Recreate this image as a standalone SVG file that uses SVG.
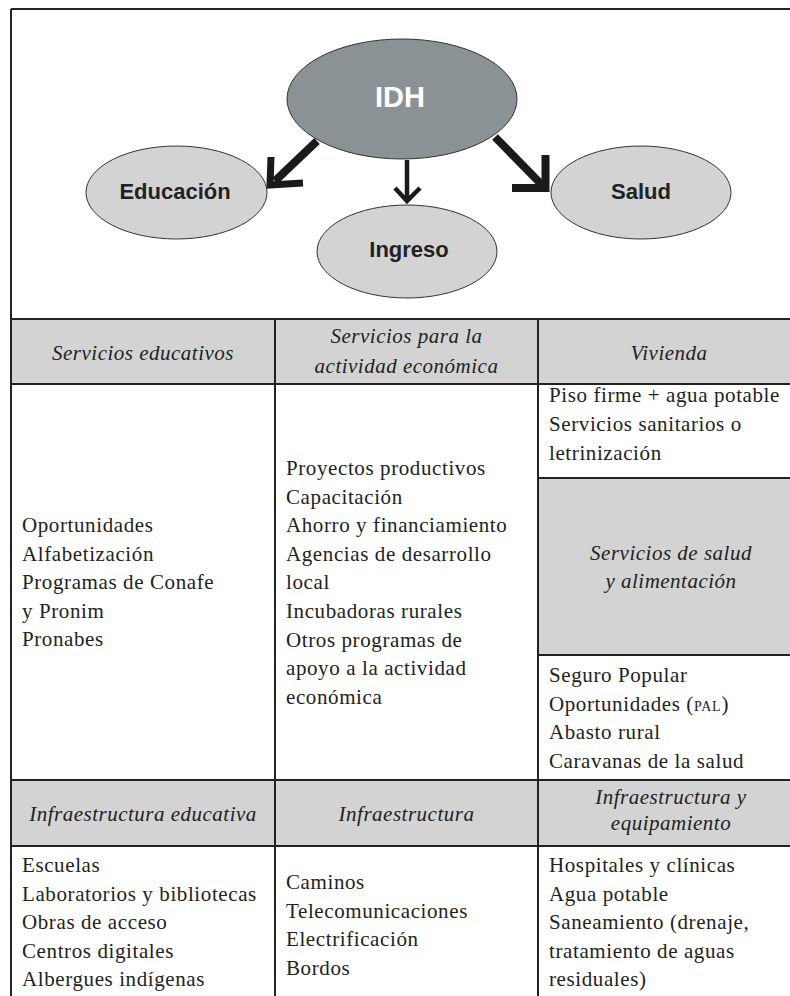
<svg xmlns="http://www.w3.org/2000/svg" width="790" height="996" viewBox="0 0 790 996">
<style>
.bg{fill:#ffffff}
.grid{stroke:#222;stroke-width:2;fill:none}
.hdr{fill:#d3d3d3}
.ell{fill:#d3d3d3;stroke:#333;stroke-width:1}
.ellDark{fill:#8a9296;stroke:#333;stroke-width:1}
.lbl{font-family:"Liberation Sans",Arial,sans-serif;font-weight:bold;font-size:22px;fill:#222;text-anchor:middle}
.lblW{font-family:"Liberation Sans",Arial,sans-serif;font-weight:bold;font-size:29px;fill:#ffffff;text-anchor:middle}
.it{font-family:"Liberation Serif","Times New Roman",serif;font-style:italic;font-size:21px;fill:#222;text-anchor:middle;letter-spacing:0.5px}
.tx{font-family:"Liberation Serif","Times New Roman",serif;font-size:21px;fill:#222;letter-spacing:0.6px}
.sc{font-size:14px;letter-spacing:0.8px}
.arr{stroke:#1a1a1a;fill:none;stroke-linejoin:miter;stroke-linecap:butt}
</style>
<rect class="bg" x="0" y="0" width="790" height="996"/>

<g id="table">
  <rect class="hdr" x="11" y="319" width="779" height="65"/>
  <rect class="hdr" x="538" y="478" width="252" height="177"/>
  <rect class="hdr" x="11" y="780" width="779" height="66"/>
  <path class="grid" d="M11,9 H790 M11,9 V996 M11,319 H790 M11,384 H790 M538,478 H790 M538,655 H790 M11,780 H790 M11,846 H790 M275,319 V996 M538,319 V996"/>
</g>

<g id="connectors">
  <line class="arr" x1="317" y1="141" x2="275" y2="181" stroke-width="8"/>
  <polyline class="arr" points="271,157 270,185 303,183" stroke-width="7"/>
  <line class="arr" x1="407" y1="160" x2="407" y2="200" stroke-width="4.5"/>
  <polyline class="arr" points="395,188 407,201 420,188" stroke-width="4.5"/>
  <line class="arr" x1="495" y1="137" x2="543" y2="186" stroke-width="8"/>
  <polyline class="arr" points="512,188 545.5,188 545.5,155" stroke-width="8"/>
</g>

<g id="node-idh">
  <ellipse class="ellDark" cx="402" cy="99" rx="115" ry="60"/>
  <text class="lblW" x="400" y="107">IDH</text>
</g>
<g id="node-educacion">
  <ellipse class="ell" cx="176.5" cy="192.5" rx="90.5" ry="46.5"/>
  <text class="lbl" x="175" y="199">Educación</text>
</g>
<g id="node-ingreso">
  <ellipse class="ell" cx="407" cy="251.5" rx="90" ry="46.5"/>
  <text class="lbl" x="409" y="257">Ingreso</text>
</g>
<g id="node-salud">
  <ellipse class="ell" cx="641" cy="192.5" rx="90" ry="46.5"/>
  <text class="lbl" x="641" y="199">Salud</text>
</g>

<g id="headers">
  <text class="it" x="143" y="360">Servicios educativos</text>
  <text class="it" x="406.5" y="343">Servicios para la</text>
  <text class="it" x="406.5" y="373">actividad económica</text>
  <text class="it" x="669" y="360">Vivienda</text>
  <text class="it" x="671" y="560">Servicios de salud</text>
  <text class="it" x="671" y="588">y alimentación</text>
  <text class="it" x="143" y="821">Infraestructura educativa</text>
  <text class="it" x="406.5" y="821">Infraestructura</text>
  <text class="it" x="671" y="804">Infraestructura y</text>
  <text class="it" x="671" y="830">equipamiento</text>
</g>

<g id="col1-services">
  <text class="tx" x="22" y="532">Oportunidades</text>
  <text class="tx" x="22" y="560.6">Alfabetización</text>
  <text class="tx" x="22" y="589.2">Programas de Conafe</text>
  <text class="tx" x="22" y="617.8">y Pronim</text>
  <text class="tx" x="22" y="646.4">Pronabes</text>
</g>
<g id="col2-services">
  <text class="tx" x="286" y="475">Proyectos productivos</text>
  <text class="tx" x="286" y="503.6">Capacitación</text>
  <text class="tx" x="286" y="532.2">Ahorro y financiamiento</text>
  <text class="tx" x="286" y="560.8">Agencias de desarrollo</text>
  <text class="tx" x="286" y="589.4">local</text>
  <text class="tx" x="286" y="618">Incubadoras rurales</text>
  <text class="tx" x="286" y="646.6">Otros programas de</text>
  <text class="tx" x="286" y="675.2">apoyo a la actividad</text>
  <text class="tx" x="286" y="703.8">económica</text>
</g>
<g id="col3-vivienda">
  <text class="tx" x="549" y="402">Piso firme + agua potable</text>
  <text class="tx" x="549" y="431">Servicios sanitarios o</text>
  <text class="tx" x="549" y="460">letrinización</text>
</g>
<g id="col3-salud">
  <text class="tx" x="549" y="682">Seguro Popular</text>
  <text class="tx" x="549" y="710.5">Oportunidades (<tspan class="sc">PAL</tspan>)</text>
  <text class="tx" x="549" y="739">Abasto rural</text>
  <text class="tx" x="549" y="767.5">Caravanas de la salud</text>
</g>
<g id="col1-infra">
  <text class="tx" x="22" y="872">Escuelas</text>
  <text class="tx" x="22" y="900.5">Laboratorios y bibliotecas</text>
  <text class="tx" x="22" y="929">Obras de acceso</text>
  <text class="tx" x="22" y="957.5">Centros digitales</text>
  <text class="tx" x="22" y="986">Albergues indígenas</text>
</g>
<g id="col2-infra">
  <text class="tx" x="286" y="889">Caminos</text>
  <text class="tx" x="286" y="917.5">Telecomunicaciones</text>
  <text class="tx" x="286" y="946">Electrificación</text>
  <text class="tx" x="286" y="974.5">Bordos</text>
</g>
<g id="col3-infra">
  <text class="tx" x="549" y="872">Hospitales y clínicas</text>
  <text class="tx" x="549" y="900.5">Agua potable</text>
  <text class="tx" x="549" y="929">Saneamiento (drenaje,</text>
  <text class="tx" x="549" y="957.5">tratamiento de aguas</text>
  <text class="tx" x="549" y="986">residuales)</text>
</g>
</svg>
